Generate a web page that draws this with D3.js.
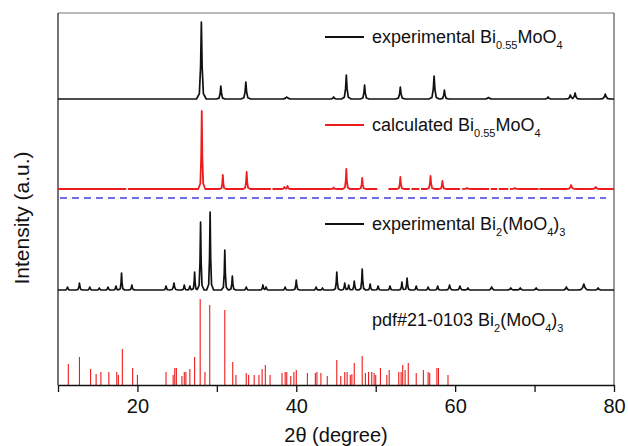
<!DOCTYPE html>
<html><head><meta charset="utf-8">
<script src="https://cdn.jsdelivr.net/npm/d3@7/dist/d3.min.js"></script>
<style>body{margin:0;background:#fff}svg{display:block;font-family:"Liberation Sans",Arial,sans-serif}</style>
</head><body><svg id="c" width="628" height="446"></svg>
<script>
// ---- data (2θ in degrees, intensity in a.u.) ----
const xTickValues = [10, 20, 30, 40, 50, 60, 70, 80];
const xTickLabels = [20, 40, 60, 80];
const seriesNames = ["experimental Bi0.55MoO4", "calculated Bi0.55MoO4", "experimental Bi2(MoO4)3", "pdf#21-0103 Bi2(MoO4)3"];
const seriesOffsets = [286, 196, 95, 0];
const separatorLevel = 187;
// [2θ, height, half-width]
const expBi055Peaks = [[28.05,77,0.28],[30.5,13,0.25],[33.65,17,0.28],[38.8,2,0.45],[44.7,2,0.3],[46.3,24,0.28],[48.6,14,0.25],[53.1,12,0.28],[57.35,23,0.3],[58.65,9,0.25],[64.2,1.5,0.4],[71.7,2,0.3],[74.5,4,0.3],[75.1,6,0.3],[78.9,5,0.35]];
const calcBi055Peaks = [[28.1,78,0.2],[30.75,14,0.18],[33.75,17,0.2],[38.5,2,0.2],[38.9,3,0.2],[44.7,1.5,0.2],[46.3,20,0.2],[48.3,11,0.2],[53.1,12,0.2],[56.9,13,0.22],[58.4,8,0.2],[61.5,1,0.3],[67.5,1,0.3],[74.6,4,0.3],[77.7,2,0.3]];
const calcGaps = [[18.6,18.8],[36.8,37.0],[50.2,51.6],[54.3,54.5],[55.5,55.7],[60.6,60.9],[64.3,64.5],[65.3,65.5],[66.7,66.9],[70.5,70.6]];
const expBi2Peaks = [[11.2,3,0.2],[12.7,7,0.2],[14.0,3,0.2],[15.2,2,0.2],[16.3,3,0.2],[17.3,4,0.2],[18.0,17,0.18],[19.3,5,0.2],[23.6,4,0.2],[24.6,7,0.25],[25.9,5,0.2],[26.6,4,0.2],[27.2,18,0.18],[27.95,68,0.2],[29.15,78,0.2],[31.0,40,0.2],[31.95,14,0.2],[33.7,3,0.2],[35.8,5,0.2],[36.2,3,0.2],[38.6,3,0.2],[40.0,10,0.2],[42.5,3,0.2],[43.3,2,0.2],[45.1,18,0.2],[46.1,7,0.2],[46.6,5,0.2],[47.3,9,0.2],[48.3,21,0.2],[49.3,6,0.2],[50.3,4,0.2],[51.8,4,0.2],[53.3,8,0.2],[53.95,12,0.2],[55.1,4,0.2],[56.6,3,0.2],[57.8,4,0.2],[59.3,5,0.25],[60.6,4,0.25],[61.6,2,0.25],[64.6,3,0.3],[67.0,2,0.3],[68.2,2,0.3],[70.2,2,0.3],[74.0,3,0.3],[76.2,6,0.4],[78.0,2,0.3]];
// [2θ, relative intensity]
const pdfSticks = [[11.3,21],[12.7,28],[14.1,16],[14.8,11],[15.4,13],[16.4,13],[17.4,13],[17.6,10],[18.1,36],[19.4,17],[20.0,10],[23.6,13],[24.5,10],[24.7,17],[24.9,17],[25.6,9],[25.9,13],[26.1,13],[26.6,16],[27.2,28],[27.9,86],[28.5,13],[29.1,80],[31.0,75],[32.0,23],[32.4,10],[33.7,12],[34.0,10],[34.7,10],[35.3,10],[35.7,16],[36.1,20],[36.7,10],[38.2,12],[38.6,13],[38.8,13],[39.3,9],[39.7,13],[40.0,15],[41.4,12],[42.4,12],[42.6,13],[43.1,12],[43.9,9],[45.1,25],[45.6,9],[46.1,13],[46.4,13],[46.8,10],[47.0,11],[47.3,22],[48.3,29],[48.7,12],[49.1,13],[49.5,13],[49.8,12],[50.0,10],[50.6,17],[51.4,10],[51.7,15],[52.9,13],[53.2,13],[53.4,20],[53.7,15],[54.1,22],[55.1,12],[56.0,15],[56.6,13],[56.8,12],[57.7,17],[57.9,17],[59.1,10]];

// ---- layout ----
const L = 58, R = 614, T = 13, B = 385;
const svg = d3.select("#c");
const x = d3.scaleLinear().domain([10, 80]).range([L, R]);
const y = d3.scaleLinear().domain([0, 372]).range([B, T]);
const RED = "#ee1c1c", BLUE = "#4040e0";

// peak profile shape (relative offsets in half-widths, relative heights)
const shape = [[-2.2,0],[-0.9,0.07],[-0.35,0.42],[0,1],[0.35,0.42],[0.9,0.07],[2.2,0]];
function profile(peaks, gaps) {
  gaps = gaps || [];
  let xs = [10, 80];
  peaks.forEach(p => shape.forEach(s => xs.push(p[0] + s[0]*p[2])));
  gaps.forEach(g => { xs.push(g[0], g[1], (g[0]+g[1])/2); });
  xs = Array.from(new Set(xs.filter(v => v >= 10 && v <= 80))).sort((a,b)=>a-b);
  const val = xv => {
    let s = 0;
    peaks.forEach(p => {
      const u = (xv - p[0]) / p[2];
      for (let i = 0; i < shape.length-1; i++) {
        const a = shape[i], b = shape[i+1];
        if (u >= a[0] && u <= b[0]) { s += p[1]*(a[1] + (b[1]-a[1])*(u-a[0])/(b[0]-a[0])); break; }
      }
    });
    return s;
  };
  return xs.map(xv => {
    const inGap = gaps.some(g => xv > g[0] && xv < g[1]);
    return {x: xv, y: inGap ? null : val(xv)};
  });
}
const line = off => d3.line().defined(d => d.y !== null).x(d => x(d.x)).y(d => y(d.y + off));

// frame
svg.append("line").attr("x1",L).attr("x2",R).attr("y1",T).attr("y2",T).attr("stroke","#777").attr("stroke-width",1.2);
svg.append("line").attr("x1",R).attr("x2",R).attr("y1",T).attr("y2",B).attr("stroke","#555").attr("stroke-width",1.2);
svg.append("line").attr("x1",L).attr("x2",L).attr("y1",T).attr("y2",B).attr("stroke","#444").attr("stroke-width",1.5);

// traces
svg.append("path").datum(profile(expBi055Peaks)).attr("d", line(seriesOffsets[0]))
  .attr("fill","none").attr("stroke","#111").attr("stroke-width",1.7).attr("stroke-linejoin","round");
svg.append("path").datum(profile(calcBi055Peaks, calcGaps)).attr("d", line(seriesOffsets[1]))
  .attr("fill","none").attr("stroke",RED).attr("stroke-width",1.8).attr("stroke-linejoin","round");
svg.append("line").attr("x1",x(10)+2).attr("x2",x(79)).attr("y1",y(separatorLevel)).attr("y2",y(separatorLevel))
  .attr("stroke",BLUE).attr("stroke-width",1.6).attr("stroke-dasharray","7,5");
svg.append("path").datum(profile(expBi2Peaks)).attr("d", line(seriesOffsets[2]))
  .attr("fill","none").attr("stroke","#111").attr("stroke-width",1.7).attr("stroke-linejoin","round");
svg.append("g").selectAll("line").data(pdfSticks).join("line")
  .attr("x1", d => x(d[0])).attr("x2", d => x(d[0]))
  .attr("y1", y(seriesOffsets[3])).attr("y2", d => y(seriesOffsets[3] + d[1]))
  .attr("stroke", RED).attr("stroke-width", 1.1);

// bottom axis
const ax = svg.append("g").attr("transform",`translate(0,${B})`)
  .call(d3.axisBottom(x).tickValues(xTickValues).tickSize(7).tickSizeOuter(0)
    .tickFormat(d => xTickLabels.includes(d) ? d : ""));
ax.select(".domain").attr("stroke","#111").attr("stroke-width",1.5);
ax.selectAll(".tick line").attr("stroke","#111").attr("stroke-width",1.3);
ax.selectAll(".tick text").attr("font-size",20).attr("fill","#111").attr("dy","0.9em")
  .attr("font-family","Liberation Sans, Arial, sans-serif");

// axis titles
svg.append("text").attr("x",(L+R)/2).attr("y",442).attr("text-anchor","middle")
  .attr("font-size",20).attr("fill","#111").text("2θ (degree)");
svg.append("text").attr("transform","translate(29,218) rotate(-90)").attr("text-anchor","middle")
  .attr("font-size",21).attr("fill","#111").text("Intensity (a.u.)");

// legends
function legendText(g, parts, xPos, yPos) {
  const t = g.append("text").attr("x", xPos).attr("y", yPos).attr("font-size", 18).attr("fill","#111");
  parts.forEach(p => {
    if (p.sub) t.append("tspan").attr("font-size", 11).attr("dy", 6).text(p.s);
    else t.append("tspan").attr("dy", p.after ? -6 : 0).text(p.s);
  });
}
const lg = svg.append("g");
const legendRows = [
  {y: 37, color: "#111", line: true, parts: [{s:"experimental Bi"},{s:"0.55",sub:true},{s:"MoO",after:true},{s:"4",sub:true}]},
  {y: 125, color: RED, line: true, parts: [{s:"calculated Bi"},{s:"0.55",sub:true},{s:"MoO",after:true},{s:"4",sub:true}]},
  {y: 224, color: "#111", line: true, parts: [{s:"experimental Bi"},{s:"2",sub:true},{s:"(MoO",after:true},{s:"4",sub:true},{s:")",after:true},{s:"3",sub:true}]},
  {y: 320, color: null, line: false, parts: [{s:"pdf#21-0103 Bi"},{s:"2",sub:true},{s:"(MoO",after:true},{s:"4",sub:true},{s:")",after:true},{s:"3",sub:true}]}
];
legendRows.forEach(r => {
  if (r.line) lg.append("line").attr("x1",325).attr("x2",364).attr("y1",r.y).attr("y2",r.y)
    .attr("stroke",r.color).attr("stroke-width",2);
  legendText(lg, r.parts, 372, r.y + 6);
});
</script></body></html>
